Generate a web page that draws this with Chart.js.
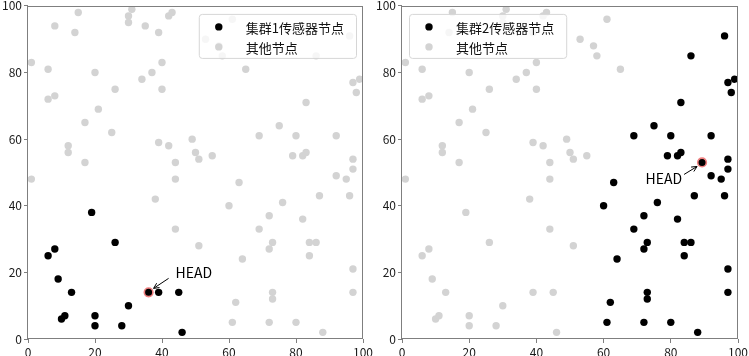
<!DOCTYPE html>
<html><head><meta charset="utf-8">
<script src="https://cdn.jsdelivr.net/npm/chart.js@4.4.1/dist/chart.umd.min.js"></script>
<style>
html,body{margin:0;padding:0;background:#fff;}
#wrap{position:relative;width:749px;height:356px;overflow:hidden;background:#fff;}
.pane{position:absolute;top:0;height:356px;}
#p1{left:0;width:374px;} #p2{left:374px;width:375px;}
canvas{display:block;}
</style></head><body>
<div id="wrap">
<div class="pane" id="p1"><canvas id="c1" width="374" height="356"></canvas></div>
<div class="pane" id="p2"><canvas id="c2" width="375" height="356"></canvas></div>
</div>
<script>
// ---- data ----
const tickValues = [0, 20, 40, 60, 80, 100];
const legendCluster1 = '集群1传感器节点';
const legendCluster2 = '集群2传感器节点';
const legendOther = '其他节点';
const headLabel = 'HEAD';

const cluster1X = [19, 26, 8, 6, 9, 13, 10, 11, 20, 20, 28, 30, 39, 45, 46];
const cluster1Y = [38, 29, 27, 25, 18, 14, 6, 7, 7, 4, 4, 10, 14, 14, 2];
const head1 = [36, 14];

const cluster2X = [96, 86, 97, 99, 98, 83, 75, 69, 80, 92, 79, 82, 83, 97, 97, 92, 95, 63, 87, 96, 60, 76, 72, 82, 69, 73, 72, 84, 86, 84, 64, 97, 97, 73, 73, 62, 61, 72, 80, 88];
const cluster2Y = [91, 85, 77, 78, 74, 71, 64, 61, 61, 61, 55, 55, 56, 54, 51, 49, 48, 47, 43, 43, 40, 41, 37, 36, 33, 29, 27, 29, 29, 25, 24, 21, 14, 14, 12, 11, 5, 5, 5, 2];
const head2 = [89.3, 53];

const otherX = [1, 6, 8, 6, 8, 15, 14, 20, 17, 21, 12, 12, 17, 26, 25, 30, 30, 31, 35, 34, 37, 39, 40, 40, 42, 43, 39, 42, 44, 49, 50, 51, 55, 53, 61, 57, 58, 65, 1, 44, 38, 44, 51];
const otherY = [83, 81, 94, 72, 73, 98, 92, 80, 65, 69, 58, 56, 53, 75, 62, 97, 95, 99, 94, 78, 80, 92, 83, 75, 97, 98, 59, 58, 53, 60, 56, 54, 55, 90, 96, 88, 85, 81, 48, 48, 42, 33, 28];

// ---- helpers ----
const FONT = "'Noto Sans CJK SC', 'Noto Sans', sans-serif";
const GRAY = '#d3d3d3';
const pts = (xs, ys) => xs.map((x, i) => ({x: x, y: ys[i]}));

const framePlugin = {
  id: 'frameAndNotes',
  afterDatasetsDraw(chart) {
    const ctx = chart.ctx, a = chart.chartArea;
    const o = chart.options.plugins.frameAndNotes;
    ctx.save();
    // frame
    ctx.strokeStyle = '#7f7f7f';
    ctx.lineWidth = 1;
    ctx.strokeRect(Math.round(a.left) - 0.5, Math.round(a.top) + 0.5, Math.round(a.right - a.left), Math.round(a.bottom - a.top) - 1);
    // HEAD annotation
    const hx = chart.scales.x.getPixelForValue(o.head[0]);
    const hy = chart.scales.y.getPixelForValue(o.head[1]);
    ctx.fillStyle = '#000';
    ctx.font = '14px ' + FONT;
    ctx.textBaseline = 'alphabetic';
    ctx.textAlign = o.textAlign;
    ctx.fillText(headLabel, hx + o.text[0], hy + o.text[1]);
    const tx = hx + o.tail[0], ty = hy + o.tail[1];
    const px = hx + o.tip[0], py = hy + o.tip[1];
    ctx.strokeStyle = '#000';
    ctx.lineWidth = 1;
    ctx.beginPath();
    ctx.moveTo(tx, ty); ctx.lineTo(px, py);
    const ang = Math.atan2(py - ty, px - tx);
    const L = 6, w = 0.45;
    ctx.moveTo(px - L * Math.cos(ang - w), py - L * Math.sin(ang - w));
    ctx.lineTo(px, py);
    ctx.lineTo(px - L * Math.cos(ang + w), py - L * Math.sin(ang + w));
    ctx.stroke();
    // legend
    ctx.font = '13px ' + FONT;
    const tw = Math.max(ctx.measureText(o.label).width, ctx.measureText(legendOther).width);
    const bw = 47 + tw + 12, bh = 44;
    const bx = o.legendSide === 'right' ? a.right - 7 - bw : a.left + 7;
    const by = a.top + 8;
    ctx.beginPath();
    if (ctx.roundRect) ctx.roundRect(bx + 0.5, by + 0.5, bw, bh, 3); else ctx.rect(bx + 0.5, by + 0.5, bw, bh);
    ctx.fillStyle = 'rgba(255,255,255,0.8)';
    ctx.fill();
    ctx.strokeStyle = '#d6d6d6';
    ctx.stroke();
    const rows = [[o.label, '#000'], [legendOther, GRAY]];
    rows.forEach((r, i) => {
      const cy = by + 13 + i * 20;
      ctx.beginPath();
      ctx.arc(bx + 20, cy, 3.7, 0, Math.PI * 2);
      ctx.fillStyle = r[1];
      ctx.fill();
      ctx.fillStyle = '#111';
      ctx.textAlign = 'left';
      ctx.textBaseline = 'middle';
      ctx.fillText(r[0], bx + 47, cy + 1);
    });
    ctx.restore();
  }
};

function axis(isX) {
  return {
    type: 'linear', min: 0, max: 100,
    afterBuildTicks: s => { s.ticks = tickValues.map(v => ({value: v})); },
    ticks: {color: '#1a1a1a', font: {family: FONT, size: 12}, padding: 2, maxRotation: 0, autoSkip: false},
    grid: {display: true, drawOnChartArea: false, drawTicks: true, tickLength: 4, color: '#7f7f7f'},
    border: {display: false},
    afterFit: s => {
      if (isX) { s.height = 17; } else { s.width = 28; }
      s.paddingLeft = 0; s.paddingRight = 0; s.paddingTop = 0; s.paddingBottom = 0;
    }
  };
}

function makeChart(id, blackPts, grayPts, head, label, note, padRight) {
  return new Chart(document.getElementById(id), {
    type: 'scatter',
    data: {datasets: [
      {label: label, data: blackPts, backgroundColor: '#000', borderWidth: 0, pointRadius: 3.7, pointHoverRadius: 3.7, order: 2},
      {label: legendOther, data: grayPts, backgroundColor: GRAY, borderWidth: 0, pointRadius: 3.7, pointHoverRadius: 3.7, order: 3},
      {label: 'HEAD', data: [{x: head[0], y: head[1]}], backgroundColor: '#000', borderColor: '#f08080', borderWidth: 1.6, pointRadius: 4.3, pointHoverRadius: 4.3, order: 1}
    ]},
    options: {
      responsive: false, animation: false, devicePixelRatio: 1,
      layout: {padding: {left: 0, right: padRight, top: 5, bottom: 0}},
      scales: {x: axis(true), y: axis(false)},
      plugins: {legend: {display: false}, tooltip: {enabled: false}, frameAndNotes: Object.assign({head: head, label: label}, note)},
      events: []
    },
    plugins: [framePlugin]
  });
}

makeChart('c1', pts(cluster1X, cluster1Y), pts(otherX.concat(cluster2X), otherY.concat(cluster2Y)), head1, legendCluster1,
  {textAlign: 'left', text: [27, -14], tail: [20, -14], tip: [5, -4], legendSide: 'right'}, 11);
makeChart('c2', pts(cluster2X, cluster2Y), pts(otherX.concat(cluster1X), otherY.concat(cluster1Y)), head2, legendCluster2,
  {textAlign: 'right', text: [-20, 22], tail: [-18, 12], tip: [-5, 4], legendSide: 'left'}, 11);
</script>
</body></html>
